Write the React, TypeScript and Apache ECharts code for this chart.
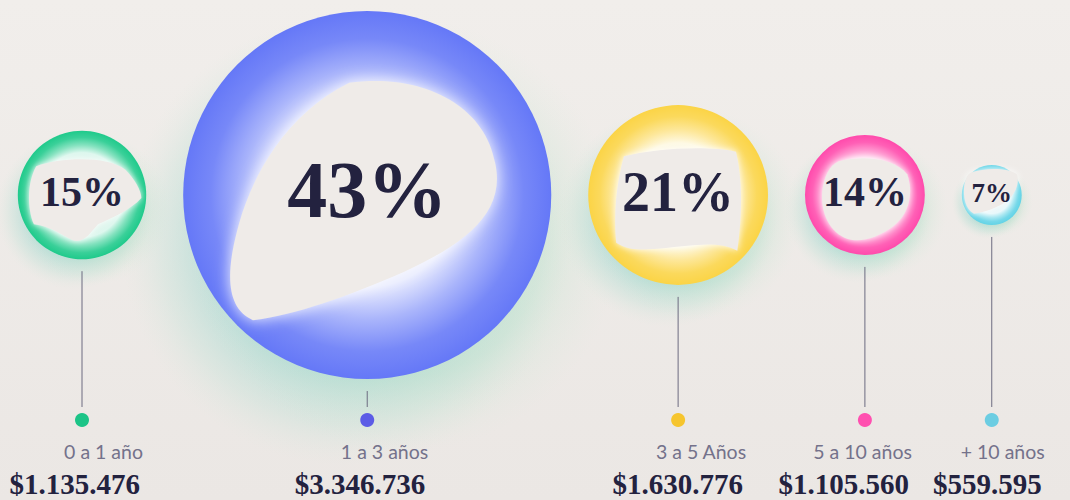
import React, { useEffect, useRef } from "react";
import * as echarts from "echarts";

// ---- data ----
const categories = ["0 a 1 año", "1 a 3 años", "3 a 5 Años", "5 a 10 años", "+ 10 años"];
const percentages = [15, 43, 21, 14, 7];
const amounts = ["$1.135.476", "$3.346.736", "$1.630.776", "$1.105.560", "$559.595"];

// ---- styles ----
const colors = ["#1fca8b", "#6578f7", "#fbd446", "#ff4aac", "#62d3e6"];
const dotColors = ["#1cc487", "#5c5ce6", "#f6c52e", "#ff50b0", "#6ccde2"];
const ringStart = [0.66, 0.5, 0.58, 0.6, 0.62];
const pctFontSizes = [42, 80, 56, 42, 27];
const labelShift = [61, 61, 68, 47, 53];
// blob box: [width, height, offsetX, offsetY] in radius units
const blobBoxes = [
  [1.75, 1.27, 0.05, 0.08],
  [1.45, 1.3, -0.02, 0.03],
  [1.4, 1.14, 0.0, 0.05],
  [1.47, 1.37, 0.02, 0.07],
  [1.8, 1.5, -0.03, -0.12],
];
const blobPaths = [
  "M8 12 C30 2 70 0 86 16 C94 26 100 40 100 48 C90 62 75 70 62 78 C55 88 50 100 40 96 C30 90 20 80 6 78 C0 60 0 30 8 12 Z",
  "M45 2 C70 -2 94 10 98 35 C102 55 88 68 65 80 C45 90 25 98 10 100 C0 95 0 80 5 60 C10 40 22 15 45 2 Z",
  "M8 10 C30 4 70 0 95 6 C100 30 100 60 96 92 C85 85 70 86 55 88 C35 90 15 95 2 85 C0 60 2 35 8 10 Z",
  "M20 5 C45 -2 80 0 95 20 C102 40 98 65 80 80 C65 92 45 100 30 95 C10 88 0 65 2 40 C4 22 10 10 20 5 Z",
  "M15 10 C40 0 80 0 96 14 C100 35 92 55 75 70 C60 82 40 90 20 94 C5 85 0 60 3 35 C5 22 8 14 15 10 Z",
];
const BG = "#efebe8";
const X_MAX = 250;
const START = 4.16;
const GAP = 8.64;

function mix(a: string, b: string, t: number) {
  const pa = [1, 3, 5].map((i) => parseInt(a.slice(i, i + 2), 16));
  const pb = [1, 3, 5].map((i) => parseInt(b.slice(i, i + 2), 16));
  const c = pa.map((v, i) => Math.round(v + (pb[i] - v) * t));
  return `rgb(${c[0]},${c[1]},${c[2]})`;
}

export default function App() {
  const ref = useRef<HTMLDivElement>(null);
  useEffect(() => {
    document.body.style.margin = "0";
    const chart = echarts.init(ref.current!, null, { renderer: "svg" });
    let acc = START;
    const data = percentages.map((p, i) => {
      const c = acc + p;
      acc += 2 * p + GAP;
      return [c, 0, p, i];
    });

    const glowItem = (params: any, api: any) => {
      const [cx, cy] = api.coord([api.value(0), 0]);
      const r = api.size([api.value(2), 0])[0];
      return {
        type: "group",
        children: [
          {
            type: "circle",
            shape: { cx: cx - 0.12 * r, cy: cy + 0.25 * r, r: r * 1.22 },
            style: {
              fill: new echarts.graphic.RadialGradient(0.5, 0.5, 0.5, [
                { offset: 0, color: "rgba(140,195,215,0.75)" },
                { offset: 0.6, color: "rgba(150,212,205,0.55)" },
                { offset: 0.82, color: "rgba(175,222,208,0.25)" },
                { offset: 1, color: "rgba(215,232,220,0)" },
              ]),
            },
          },
          {
            type: "circle",
            shape: { cx: cx + 0.2 * r, cy: cy + 0.22 * r, r: r * 1.18 },
            style: {
              fill: new echarts.graphic.RadialGradient(0.5, 0.5, 0.5, [
                { offset: 0, color: "rgba(170,220,195,0.45)" },
                { offset: 0.65, color: "rgba(180,225,200,0.35)" },
                { offset: 1, color: "rgba(215,235,220,0)" },
              ]),
            },
          },
        ],
      };
    };

    const mainItem = (params: any, api: any) => {
      const i = api.value(3);
      const [cx, cy] = api.coord([api.value(0), 0]);
      const r = api.size([api.value(2), 0])[0];
      const col = colors[i];
      const s = ringStart[i];
      const [bw, bh, ox, oy] = blobBoxes[i];
      return {
        type: "group",
        children: [
          {
            type: "circle",
            shape: { cx, cy, r },
            style: {
              fill: new echarts.graphic.RadialGradient(0.5, 0.5, 0.5, [
                { offset: 0, color: BG },
                { offset: s, color: mix(col, "#ffffff", 0.85) },
                { offset: s + (1 - s) * 0.35, color: mix(col, "#ffffff", 0.45) },
                { offset: s + (1 - s) * 0.7, color: mix(col, "#ffffff", 0.12) },
                { offset: 1, color: col },
              ]),
            },
          },
          {
            type: "path",
            shape: {
              pathData: blobPaths[i],
              x: cx + ox * r - (bw * r) / 2,
              y: cy + oy * r - (bh * r) / 2,
              width: bw * r,
              height: bh * r,
              layout: "cover",
            },
            style: { fill: BG, shadowBlur: Math.max(6, r * 0.08), shadowColor: "rgba(255,255,255,0.9)" },
          },
          {
            type: "text",
            x: cx,
            y: cy - pctFontSizes[i] * 0.06,
            style: {
              text: api.value(2) + "%",
              fontSize: pctFontSizes[i],
              fontFamily: "Liberation Serif",
              fontWeight: "bold",
              fill: "#23223f",
              align: "center",
              verticalAlign: "middle",
            },
          },
          {
            type: "line",
            shape: { x1: cx, y1: cy + r + 12, x2: cx, y2: 407 },
            style: { stroke: "#6c6b80", lineWidth: 1 },
          },
          {
            type: "circle",
            shape: { cx, cy: 420, r: 7 },
            style: { fill: dotColors[i] },
          },
          {
            type: "text",
            x: cx + labelShift[i],
            y: 451,
            style: {
              text: categories[i],
              fontSize: 19.5,
              fontFamily: "Lato",
              fill: "#74728b",
              align: "right",
              verticalAlign: "middle",
            },
          },
          {
            type: "text",
            x: cx + labelShift[i] - 3,
            y: 484,
            style: {
              text: amounts[i],
              fontSize: 29,
              fontFamily: "Liberation Serif",
              fontWeight: "bold",
              fill: "#23223f",
              align: "right",
              verticalAlign: "middle",
            },
          },
        ],
      };
    };

    chart.setOption({
      animation: false,
      backgroundColor: new echarts.graphic.LinearGradient(0, 0, 0, 1, [
        { offset: 0, color: "#f1eeeb" },
        { offset: 1, color: "#ebe7e4" },
      ]),
      grid: { left: 0, right: 0, top: 95, height: 200 },
      xAxis: { type: "value", min: 0, max: X_MAX, show: false },
      yAxis: { type: "value", min: -1, max: 1, show: false },
      series: [
        { type: "custom", renderItem: glowItem, data, z: 1, silent: true },
        { type: "custom", renderItem: mainItem, data, z: 2, silent: true },
      ],
    });
    return () => chart.dispose();
  }, []);
  return <div ref={ref} style={{ width: 1070, height: 500 }} />;
}
